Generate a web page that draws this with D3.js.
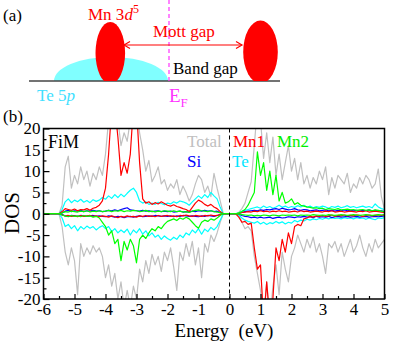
<!DOCTYPE html>
<html>
<head>
<meta charset="utf-8">
<script src="https://cdn.jsdelivr.net/npm/d3@7"></script>
<style>
  body { margin: 0; background: #fff; }
  svg text { font-family: "Liberation Serif", "DejaVu Serif", serif; }
</style>
</head>
<body>
<svg class="main-svg" width="399" height="342"></svg>
<script>
// energy grid (eV), rows of ten: -6.0 .. 5.0
var energy = [
  -6.0,-5.9,-5.8,-5.7,-5.6,-5.5,-5.4,-5.3,-5.2,-5.1,
  -5.0,-4.9,-4.8,-4.7,-4.6,-4.5,-4.4,-4.3,-4.2,-4.1,
  -4.0,-3.9,-3.8,-3.7,-3.6,-3.5,-3.4,-3.3,-3.2,-3.1,
  -3.0,-2.9,-2.8,-2.7,-2.6,-2.5,-2.4,-2.3,-2.2,-2.1,
  -2.0,-1.9,-1.8,-1.7,-1.6,-1.5,-1.4,-1.3,-1.2,-1.1,
  -1.0,-0.9,-0.8,-0.7,-0.6,-0.5,-0.4,-0.3,-0.2,-0.1,
  0.0,0.1,0.2,0.3,0.4,0.5,0.6,0.7,0.8,0.9,
  1.0,1.1,1.2,1.3,1.4,1.5,1.6,1.7,1.8,1.9,
  2.0,2.1,2.2,2.3,2.4,2.5,2.6,2.7,2.8,2.9,
  3.0,3.1,3.2,3.3,3.4,3.5,3.6,3.7,3.8,3.9,
  4.0,4.1,4.2,4.3,4.4,4.5,4.6,4.7,4.8,4.9,
  5.0];

var totalUp = [
  0,0,0,0,0,0,2,11,13.5,6,
  9,7,11,8,10,6.5,9.5,8,11,9,
  14,22,25,25,22,16,19,17,22,25,
  25,19,15,10,12.5,7.5,9,11,7,8,
  5.5,7,6,8,4.5,6.5,5,3,4.5,7,
  9,8,5,6.5,4,9.5,6,3,0,0,
  0,0,0,0.3,1.2,2.5,5,7.5,16,25,
  22,13,19,12,18,9,14,8,12,16,
  10,13,8,12,7,9,6,8.5,7,10,
  8,11,4.5,8.5,6,9,8,7,9.5,5,
  7,6,8.5,7,9,8,6,7,10.5,4,
  1];
var totalDn = [
  0,0,0,0,0,0,-3,-9,-12,-8,
  -11,-19,-7,-10,-8,-9.5,-7.5,-9,-8,-10,
  -15,-12,-17,-14,-20,-16,-22,-18,-22,-17,
  -20,-13,-16,-11,-14,-9.5,-12,-10,-13.5,-9,
  -11,-8,-12.5,-18,-9,-11,-7,-10,-6.5,-12,
  -8,-15,-7,-9,-5,-6.5,-4.5,-2,0,0,
  0,0,0,-0.3,-2,-3.5,-3,-4,-10,-14,
  -18,-25,-16,-25,-17,-12,-19,-9,-13,-16,
  -10,-8,-5,-7,-9,-6,-8,-5.5,-9,-7,
  -10,-14,-7,-8,-6.5,-9,-7,-10,-8,-6,
  -9,-7.5,-5,-8,-10,-7,-9,-6,-8,-7,
  -6];

var mn1Up = [
  0,0,0,0,0,0,0.5,1.2,1,0.8,
  1.1,0.7,1,0.9,1.2,0.8,1.3,1.5,2,3,
  6,14,25,25,18,9,12,9.5,14,25,
  25,12,3.5,2.5,2.8,2.2,2.6,2.3,2.8,2.4,
  2,1.8,2.1,1.7,1.5,1.2,1,0.5,1.5,2.5,
  3.2,2.8,2.2,1.8,2.2,1.6,1.2,0.5,0,0,
  0,0,0,0.1,0.3,0.4,0.5,0.4,0.6,0.5,
  0.7,0.5,0.6,0.4,0.6,0.5,0.7,0.5,0.6,0.4,
  0.5,0.6,0.4,0.7,0.5,0.6,0.4,0.5,0.6,0.5,
  0.4,0.6,0.5,0.7,0.4,0.5,0.6,0.4,0.5,0.6,
  0.5,0.4,0.6,0.5,0.7,0.4,0.5,0.6,0.5,0.4,
  0.3];
var mn1Dn = [
  0,0,0,0,0,0,-0.3,-0.5,-0.4,-0.6,
  -0.5,-0.7,-0.4,-0.6,-0.5,-0.4,-0.6,-0.5,-0.7,-0.5,
  -0.6,-0.8,-0.5,-0.7,-0.9,-0.6,-0.8,-0.5,-0.7,-0.6,
  -0.8,-0.5,-0.6,-0.4,-0.6,-0.5,-0.7,-0.4,-0.6,-0.5,
  -0.4,-0.6,-0.5,-0.7,-0.4,-0.5,-0.3,-0.5,-0.6,-0.4,
  -0.5,-0.6,-0.4,-0.5,-0.3,-0.5,-0.4,-0.2,0,0,
  0,0,0,-0.8,-2,-1.8,-2.5,-2.2,-8,-13,
  -12,-25,-16,-25,-20,-8,-11,-6,-9,-4.5,
  -7,-3,-2.5,-2.8,-1.2,-1,-0.6,-0.8,-0.5,-0.6,
  -0.4,-0.6,-0.5,-0.3,-0.6,-0.4,-0.5,-0.3,-0.5,-0.4,
  -0.5,-0.3,-0.4,-0.6,-0.4,-0.3,-0.5,-0.4,-0.3,-0.4,
  -0.3];

var mn2Up = [
  0,0,0,0,0,0,0.2,0.5,0.4,0.6,
  0.5,0.4,0.6,0.5,0.7,0.4,0.6,0.5,0.7,0.5,
  0.6,0.8,0.5,0.7,0.6,0.8,0.5,0.7,0.6,0.8,
  0.7,0.5,0.6,0.8,0.5,0.6,0.4,0.6,0.5,0.7,
  0.6,0.5,0.7,0.5,0.6,0.4,0.5,0.3,0.6,0.8,
  0.9,0.7,0.6,0.5,0.7,0.5,0.4,0.2,0,0,
  0,0,0,0.2,0.5,1,2,3.5,5,14.5,
  9,12,5.5,10,4.5,9,3,5,2.5,2.8,
  3.5,2.2,2.6,2,1.8,1.6,1.5,1.3,1.4,1.2,
  1.3,1,1.2,1.1,1,1.2,0.9,1,1.1,0.9,
  1,0.8,0.9,1,0.8,0.9,0.7,0.9,0.8,0.6,
  0.5];
var mn2Dn = [
  0,0,0,0,0,0,-0.3,-0.5,-0.7,-0.4,
  -0.6,-0.5,-0.7,-0.4,-0.6,-0.5,-0.8,-0.6,-1,-2,
  -3,-5,-4,-7,-6,-11,-6.5,-8.5,-6,-7.5,
  -11.5,-6,-5,-5.8,-4.5,-3.5,-4,-3,-3.5,-2.5,
  -1.8,-1.5,-1.2,-1.6,-1,-1.3,-0.8,-1.2,-2,-2.8,
  -3.4,-2,-1.5,-1.8,-1.2,-1.5,-1,-0.4,0,0,
  0,0,0,-0.1,-0.2,-0.3,-0.4,-0.3,-0.5,-0.4,
  -0.5,-0.3,-0.4,-0.5,-0.3,-0.4,-0.5,-0.3,-0.4,-0.3,
  -0.4,-0.3,-0.5,-0.3,-0.4,-0.3,-0.4,-0.2,-0.3,-0.4,
  -0.3,-0.4,-0.2,-0.3,-0.4,-0.3,-0.2,-0.3,-0.4,-0.3,
  -0.2,-0.3,-0.4,-0.3,-0.2,-0.3,-0.4,-0.3,-0.2,-0.3,
  -0.2];

var siUp = [
  0,0,0,0,0,0,0.2,0.6,0.8,0.5,
  0.7,0.6,0.8,0.5,0.7,0.6,0.8,0.6,0.7,0.5,
  0.6,0.8,0.7,0.9,0.7,1,1.2,1.4,0.9,0.8,
  0.7,0.6,0.8,0.6,0.7,0.5,0.6,0.7,0.5,0.6,
  0.5,0.6,0.4,0.5,0.6,0.4,0.5,0.4,0.6,0.5,
  0.7,0.6,0.8,0.6,0.7,0.5,0.6,0.3,0,0,
  0,0,0,0.1,0.3,0.5,0.6,0.7,0.8,0.7,
  0.9,0.8,1,0.9,1.1,1.2,1,1.3,1.1,0.9,
  1,1.2,0.9,0.8,1,0.9,0.7,0.8,0.9,0.7,
  0.8,0.9,0.7,0.8,0.6,0.8,0.7,0.9,0.7,0.8,
  0.7,0.8,0.6,0.8,0.7,0.9,0.7,0.8,0.6,0.7,
  0.5];
var siDn = [
  0,0,0,0,0,0,-0.2,-0.5,-0.6,-0.4,
  -0.5,-0.6,-0.4,-0.5,-0.6,-0.5,-0.4,-0.6,-0.5,-0.6,
  -0.7,-0.5,-0.6,-0.8,-0.6,-0.7,-0.9,-0.7,-0.6,-0.8,
  -0.6,-0.5,-0.7,-0.6,-0.5,-0.6,-0.4,-0.5,-0.6,-0.5,
  -0.6,-0.5,-0.7,-0.5,-0.6,-0.4,-0.5,-0.6,-0.5,-0.6,
  -0.7,-0.5,-0.6,-0.4,-0.5,-0.6,-0.4,-0.2,0,0,
  0,0,0,-0.1,-0.4,-0.6,-0.7,-0.9,-0.8,-1,
  -0.8,-1,-0.9,-0.8,-1.1,-0.9,-0.8,-1,-0.9,-0.7,
  -0.8,-0.9,-0.7,-0.8,-0.6,-0.8,-0.7,-0.9,-0.6,-0.8,
  -0.7,-0.8,-0.6,-0.9,-0.7,-0.6,-0.8,-0.7,-0.6,-0.8,
  -0.7,-0.6,-0.8,-0.7,-0.6,-0.8,-0.7,-0.6,-0.7,-0.6,
  -0.5];

var teUp = [
  0,0,0,0,0,0,1,2.8,3.5,2.6,
  3.2,2.8,3.4,2.7,3.1,2.6,3.3,2.9,3.2,3.8,
  3.4,4.2,3.6,4.5,3.8,4.6,4,4.8,5.5,6,
  5,3,2.5,2.8,2.2,2.5,2.2,2.7,2.4,2.1,
  2.5,2.3,2.8,2.5,3,2.8,2.5,2,2.8,3.5,
  4.2,3.6,4.5,3.8,5,4.2,3.5,1.5,0,0,
  0,0,0,0.2,0.6,0.8,1,1.2,1.4,1.6,
  1.3,1.8,1.4,1.7,1.3,1.6,2,1.5,1.8,1.4,
  1.7,1.5,1.9,1.6,2,1.5,1.8,1.4,1.7,1.5,
  1.8,1.6,1.3,1.7,1.5,1.8,1.4,1.6,1.9,1.5,
  1.7,1.4,1.6,1.8,1.5,1.7,1.4,2.3,1.6,1.2,
  1];
var teDn = [
  0,0,0,0,0,0,-1,-3,-2.5,-3.5,
  -2.8,-4,-3,-3.6,-2.9,-3.4,-3,-3.8,-3.2,-2.8,
  -3.5,-3,-4.2,-3.5,-4.5,-3.8,-4.4,-3.6,-5,-3.8,
  -4.5,-3.5,-4.8,-4,-5.2,-4.5,-5.5,-5,-6,-5.2,
  -5.8,-6.2,-5.5,-6,-5,-5.6,-4.5,-5,-3.8,-4.5,
  -3.5,-4.8,-3.6,-4.2,-3.2,-3.8,-3,-1.5,0,0,
  0,0,0,-0.3,-1,-1.5,-1.8,-2,-2.2,-1.8,
  -2.4,-2,-2.5,-2.1,-2.3,-1.8,-2.2,-1.9,-2.4,-2,
  -2.2,-1.6,-1.9,-1.5,-1.7,-1.3,-1.5,-1.2,-1.4,-1.1,
  -1.3,-1,-1.2,-0.9,-1.1,-1,-1.2,-0.9,-1.1,-1,
  -1.2,-0.9,-1.1,-1,-1.3,-1,-1.2,-1.4,-1,-1.1,
  -0.9];

var xTicks = [-6,-5,-4,-3,-2,-1,0,1,2,3,4,5];
var yTicks = [20,15,10,5,0,-5,-10,-15,-20];

var serif = '"Liberation Serif", "DejaVu Serif", serif';
var svg = d3.select('.main-svg');

// ---- panel (a): schematic ----
var a = svg.append('g');
a.append('text').attr('x', 3).attr('y', 21).attr('font-size', 17).text('(a)');

a.append('path')
  .attr('d', 'M54,81 A57,24 0 0 1 168,81 Z')
  .attr('fill', '#80ffff');
a.append('line')
  .attr('x1', 29).attr('x2', 280).attr('y1', 81).attr('y2', 81)
  .attr('stroke', '#444').attr('stroke-width', 1.5);

a.append('clipPath').attr('id', 'above')
  .append('rect').attr('x', 0).attr('y', 0).attr('width', 399).attr('height', 81);
a.append('ellipse').attr('cx', 110.3).attr('cy', 53).attr('rx', 14.8).attr('ry', 31)
  .attr('fill', 'red').attr('clip-path', 'url(#above)');
a.append('ellipse').attr('cx', 260.5).attr('cy', 52).attr('rx', 17.3).attr('ry', 31.5)
  .attr('fill', 'red').attr('clip-path', 'url(#above)');

a.append('line')
  .attr('x1', 169).attr('x2', 169).attr('y1', 0).attr('y2', 82)
  .attr('stroke', '#ff33ff').attr('stroke-width', 1.2).attr('stroke-dasharray', '4,3');

// Mott gap arrow
a.append('line').attr('x1', 124).attr('x2', 242).attr('y1', 45).attr('y2', 45)
  .attr('stroke', 'red').attr('stroke-width', 1.2);
a.append('path').attr('d', 'M130,41.5 L124,45 L130,48.5 M236,41.5 L242,45 L236,48.5')
  .attr('fill', 'none').attr('stroke', 'red').attr('stroke-width', 1.2);

var mn = a.append('text').attr('x', 88).attr('y', 20).attr('font-size', 17).attr('fill', 'red');
mn.append('tspan').text('Mn 3');
mn.append('tspan').attr('font-style', 'italic').text('d');
mn.append('tspan').attr('font-size', 12).attr('dy', -7).text('5');

a.append('text').attr('x', 153).attr('y', 37).attr('font-size', 17).attr('fill', 'red').text('Mott gap');
a.append('text').attr('x', 173).attr('y', 74).attr('font-size', 17).attr('fill', '#000').text('Band gap');

var te = a.append('text').attr('x', 37).attr('y', 101).attr('font-size', 17).attr('fill', '#40e0ff');
te.append('tspan').text('Te 5');
te.append('tspan').attr('font-style', 'italic').text('p');

var ef = a.append('text').attr('x', 169).attr('y', 102).attr('font-size', 19).attr('fill', '#ff33ff');
ef.append('tspan').text('E');
ef.append('tspan').attr('font-size', 13).attr('dy', 5).text('F');

svg.append('text').attr('x', 3).attr('y', 122).attr('font-size', 17).text('(b)');

// ---- panel (b): DOS ----
var plotL = 43.5, plotR = 384.5, plotT = 128.5, plotB = 299;
var x = d3.scaleLinear().domain([-6, 5]).range([plotL, plotR]);
var y = d3.scaleLinear().domain([-20, 20]).range([plotB, plotT]);

svg.append('clipPath').attr('id', 'plot')
  .append('rect').attr('x', plotL).attr('y', plotT)
  .attr('width', plotR - plotL).attr('height', plotB - plotT);

var plot = svg.append('g').attr('clip-path', 'url(#plot)');

var line = d3.line()
  .x(function (d, i) { return x(energy[i]); })
  .y(function (d) { return y(d); });

var series = [
  { up: totalUp, dn: totalDn, colour: '#c0c0c0' },
  { up: teUp, dn: teDn, colour: '#00ffff' },
  { up: siUp, dn: siDn, colour: '#0000ff' },
  { up: mn1Up, dn: mn1Dn, colour: '#ff0000' },
  { up: mn2Up, dn: mn2Dn, colour: '#00ff00' }
];
series.forEach(function (s) {
  [s.up, s.dn].forEach(function (vals) {
    plot.append('path')
      .attr('d', line(vals))
      .attr('fill', 'none')
      .attr('stroke', s.colour)
      .attr('stroke-width', 1.2)
      .attr('stroke-linejoin', 'round');
  });
});

// Fermi level
svg.append('line')
  .attr('x1', x(0)).attr('x2', x(0)).attr('y1', plotT).attr('y2', plotB)
  .attr('stroke', '#000').attr('stroke-width', 1).attr('stroke-dasharray', '4,3');

// axes with inward ticks
var xAxis = d3.axisBottom(x).tickValues(xTicks).tickSize(-5).tickPadding(4)
  .tickFormat(function (d) { return d; });
var gx = svg.append('g').attr('transform', 'translate(0,' + plotB + ')').call(xAxis);
gx.select('.domain').remove();
var xMinor = d3.axisBottom(x).tickValues(xTicks.slice(0, -1).map(function (d) { return d + 0.5; }))
  .tickSize(-3).tickFormat('');
svg.append('g').attr('transform', 'translate(0,' + plotB + ')').call(xMinor)
  .select('.domain').remove();

var yAxis = d3.axisLeft(y).tickValues(yTicks).tickSize(-6).tickPadding(3)
  .tickFormat(function (d) { return d; });
var gy = svg.append('g').attr('transform', 'translate(' + plotL + ',0)').call(yAxis);
gy.select('.domain').remove();
var yMinor = d3.axisLeft(y).tickValues(yTicks.slice(0, -1).map(function (d) { return d - 2.5; }))
  .tickSize(-3).tickFormat('');
svg.append('g').attr('transform', 'translate(' + plotL + ',0)').call(yMinor)
  .select('.domain').remove();
svg.selectAll('.tick line').attr('stroke', '#000').attr('stroke-width', 1.2);
svg.selectAll('.tick text').attr('font-size', 17).attr('fill', '#000');

svg.append('rect')
  .attr('x', plotL).attr('y', plotT).attr('width', plotR - plotL).attr('height', plotB - plotT)
  .attr('fill', 'none').attr('stroke', '#000').attr('stroke-width', 1.5);

// labels and legend
svg.append('text').attr('x', 48).attr('y', 148).attr('font-size', 18).text('FiM');
var legend = [
  { name: 'Total', colour: '#c0c0c0', lx: 187, ly: 147 },
  { name: 'Mn1', colour: '#ff0000', lx: 233, ly: 147 },
  { name: 'Mn2', colour: '#00ee00', lx: 277, ly: 147 },
  { name: 'Si', colour: '#0000ff', lx: 187, ly: 167 },
  { name: 'Te', colour: '#00e5ff', lx: 232, ly: 167 }
];
svg.selectAll('.leg').data(legend).enter().append('text')
  .attr('class', 'leg')
  .attr('x', function (d) { return d.lx; })
  .attr('y', function (d) { return d.ly; })
  .attr('font-size', 17)
  .attr('fill', function (d) { return d.colour; })
  .text(function (d) { return d.name; });

svg.append('text')
  .attr('transform', 'translate(19,213) rotate(-90)')
  .attr('text-anchor', 'middle').attr('font-size', 21).text('DOS');
svg.append('text')
  .attr('x', 224).attr('y', 337).attr('text-anchor', 'middle').attr('font-size', 19)
  .attr('xml:space', 'preserve').text('Energy  (eV)');

svg.selectAll('text').style('font-family', serif);
</script>
</body>
</html>
